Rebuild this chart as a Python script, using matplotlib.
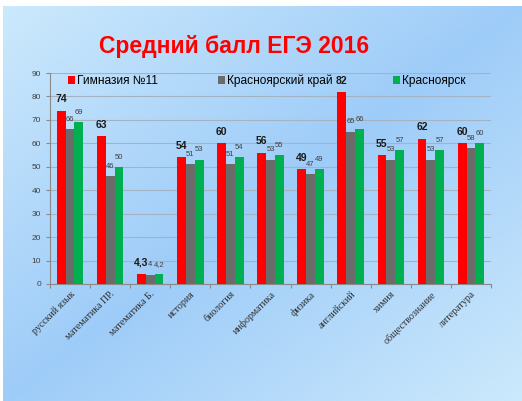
import matplotlib
matplotlib.use("Agg")
import matplotlib.pyplot as plt
import numpy as np

plt.rcParams['font.family'] = ['Liberation Sans', 'DejaVu Sans']

subjects = ["русский язык", "математика ПР.", "математика Б.", "история",
            "биология", "информатика", "физика", "английский", "химия",
            "обществознание", "литература"]
gymnasium = [74, 63, 4.3, 54, 60, 56, 49, 82, 55, 62, 60]
region = [66, 46, 4, 51, 51, 53, 47, 65, 53, 53, 58]
city = [69, 50, 4.2, 53, 54, 55, 49, 66, 57, 57, 60]
series_names = ["Гимназия №11", "Красноярский край", "Красноярск"]
y_ticks = [0, 10, 20, 30, 40, 50, 60, 70, 80, 90]

W, H = 522, 401
fig = plt.figure(figsize=(W / 100, H / 100), dpi=100)
fig.patch.set_facecolor("white")

# diagonal gradient background, leaves a thin white strip at top and left
bg = fig.add_axes([3 / W, 0, (W - 3) / W, (H - 6) / H])
bg.axis("off")
u, v = np.meshgrid(np.linspace(0, 1, 300), np.linspace(0, 1, 300))
t = np.abs(u + v - 1)[..., None]
dark = np.array([0.62, 0.80, 0.973])
light = np.array([0.80, 0.914, 0.99])
bg.imshow(dark + (light - dark) * t, aspect="auto", extent=(0, 1, 1, 0))

fig.text(234 / W, 1 - 46 / H, "Средний балл ЕГЭ 2016", color="#ff0000",
         fontsize=16.5, fontweight="bold", ha="center", va="center")

ax = fig.add_axes([50 / W, 1 - 284 / H, 441 / W, 211 / H])
ax.patch.set_alpha(0)

x = np.arange(len(subjects))
w = 0.22
colors = ["#ff0000", "#6b6b6b", "#00b050"]
for i, (vals, name, c) in enumerate(zip([gymnasium, region, city], series_names, colors)):
    bars = ax.bar(x + (i - 1) * w, vals, w, color=c, label=name, zorder=3)
    for b, val in zip(bars, vals):
        txt = f"{val:g}".replace(".", ",")
        if i == 0:
            kw = dict(fontsize=7.5, fontweight="bold", color="#1a1a1a")
        else:
            kw = dict(fontsize=5.5, color="#404040")
        ax.annotate(txt, (b.get_x() + b.get_width() / 2, b.get_height()),
                    xytext=(0, 4.5), textcoords="offset points",
                    ha="center", va="bottom", **kw)

ax.set_xlim(-0.5, len(subjects) - 0.5)
ax.set_ylim(0, 90)
ax.set_yticks(y_ticks)
ax.tick_params(axis="y", labelsize=6, colors="#8a8a8a", labelcolor="#404040",
               length=3, width=0.8)
ax.yaxis.grid(True, color="#a3b3c3", linewidth=0.8, zorder=0)

ax.set_xticks(x)
ax.set_xticklabels(subjects, rotation=45, ha="right", rotation_mode="anchor",
                   family=["Liberation Serif"], fontsize=7.2, color="#303030")
ax.tick_params(axis="x", length=0, pad=4)
ax.set_xticks(np.arange(len(subjects) + 1) - 0.5, minor=True)
ax.tick_params(axis="x", which="minor", length=3, colors="#8a8a8a", width=0.8)

for s in ["top", "right"]:
    ax.spines[s].set_visible(False)
for s in ["left", "bottom"]:
    ax.spines[s].set_color("#8a8a8a")
    ax.spines[s].set_linewidth(0.8)

ax.legend(loc="upper left", bbox_to_anchor=(0.029, 1.015), ncol=3, frameon=False,
          fontsize=8.6, handlelength=0.6, handleheight=0.6, handletextpad=0.2,
          columnspacing=5.0, borderaxespad=0)

fig.savefig("out.png", dpi=100)
